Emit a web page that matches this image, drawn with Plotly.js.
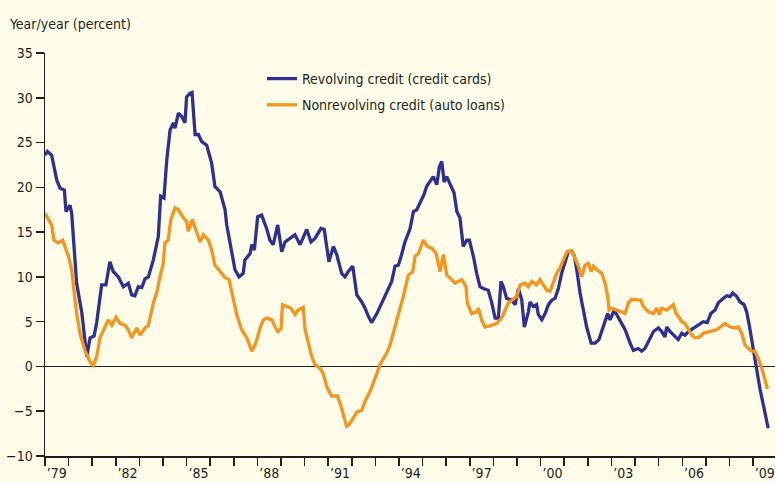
<!DOCTYPE html>
<html>
<head>
<meta charset="utf-8">
<script src="https://cdn.plot.ly/plotly-3.0.1.min.js"></script>
<style>html,body{margin:0;padding:0;background:#FFFDE9;}#chart{width:775px;height:482px;}</style>
</head>
<body>
<div id="chart"></div>
<script>
// Revolving credit (credit cards), year/year percent
const revYears = [1979.00,1979.10,1979.28,1979.42,1979.50,1979.64,1979.82,1979.89,1980.06,1980.13,1980.34,1980.56,1980.77,1980.91,1981.08,1981.19,1981.40,1981.58,1981.75,1981.89,1982.11,1982.32,1982.53,1982.67,1982.81,1982.95,1983.10,1983.24,1983.38,1983.59,1983.80,1983.90,1984.04,1984.16,1984.30,1984.44,1984.51,1984.65,1984.79,1984.93,1985.00,1985.14,1985.23,1985.36,1985.50,1985.64,1985.85,1986.06,1986.20,1986.42,1986.63,1986.70,1986.91,1987.05,1987.22,1987.40,1987.47,1987.69,1987.76,1987.87,1988.01,1988.18,1988.39,1988.53,1988.67,1988.86,1989.03,1989.17,1989.38,1989.59,1989.81,1990.09,1990.27,1990.44,1990.69,1990.83,1991.03,1991.22,1991.36,1991.57,1991.71,1991.85,1992.04,1992.21,1992.42,1992.56,1992.70,1992.84,1993.06,1993.27,1993.50,1993.69,1993.83,1993.97,1994.11,1994.25,1994.47,1994.61,1994.75,1994.89,1995.06,1995.17,1995.31,1995.45,1995.60,1995.71,1995.81,1995.91,1996.02,1996.16,1996.33,1996.45,1996.58,1996.72,1996.87,1996.98,1997.15,1997.29,1997.43,1997.57,1997.78,1997.93,1998.07,1998.21,1998.32,1998.42,1998.56,1998.78,1998.92,1999.06,1999.20,1999.31,1999.48,1999.55,1999.69,1999.83,1999.90,2000.05,2000.19,2000.33,2000.47,2000.61,2000.75,2000.89,2001.03,2001.17,2001.32,2001.43,2001.53,2001.67,2001.81,2001.95,2002.14,2002.31,2002.47,2002.59,2002.73,2002.84,2002.94,2003.12,2003.22,2003.36,2003.58,2003.79,2003.93,2004.14,2004.28,2004.42,2004.56,2004.78,2004.99,2005.13,2005.27,2005.34,2005.48,2005.62,2005.83,2005.98,2006.12,2006.26,2006.47,2006.68,2006.89,2007.06,2007.21,2007.39,2007.53,2007.74,2007.89,2008.03,2008.14,2008.31,2008.45,2008.62,2008.73,2008.84,2008.94,2009.04,2009.16,2009.30,2009.47,2009.64];
const revValues = [23.6,24.0,23.6,22.0,20.8,19.9,19.7,17.3,18.0,17.1,9.3,6.0,1.1,3.2,3.4,4.9,9.1,9.1,11.7,10.6,10.0,8.9,9.3,8.0,7.9,8.9,8.8,9.8,10.0,11.9,14.5,19.0,18.8,23.1,26.4,27.2,26.6,28.3,27.9,27.2,30.1,30.5,30.6,25.9,25.9,25.1,24.7,22.7,20.1,19.5,17.5,15.8,13.0,10.8,10.0,10.4,11.9,12.6,13.6,13.0,16.7,16.9,15.4,14.1,13.6,15.8,12.8,13.9,14.3,14.7,13.6,15.3,13.9,14.3,15.4,15.3,11.7,13.4,12.5,10.4,10.0,10.6,11.2,8.0,7.2,6.5,5.6,4.9,5.9,7.1,8.5,9.5,11.2,11.3,12.5,13.9,15.4,17.3,17.5,18.2,19.2,20.1,20.6,21.2,20.3,22.3,22.9,20.6,21.2,20.3,19.4,17.3,16.6,13.4,14.1,14.1,12.3,10.4,8.9,8.7,8.5,7.1,5.4,5.4,9.5,8.9,7.6,7.4,6.9,8.7,7.4,4.4,6.1,7.2,6.7,6.9,5.8,5.2,5.9,6.9,7.4,7.6,8.7,10.4,11.7,12.8,12.9,12.3,10.8,8.2,6.3,4.4,2.6,2.6,3.0,3.9,5.0,5.9,5.2,6.3,5.8,5.2,4.1,2.6,1.8,2.0,1.7,2.0,2.8,3.9,4.3,3.9,3.3,4.4,3.9,3.5,3.0,3.7,3.5,3.9,4.3,4.6,5.0,4.9,5.9,6.3,7.1,7.6,7.9,7.8,8.2,7.8,7.2,6.9,6.1,4.6,3.0,1.1,-0.4,-2.6,-4.7,-6.9];

// Nonrevolving credit (auto loans), year/year percent
const nonYears = [1979.00,1979.14,1979.28,1979.38,1979.56,1979.75,1979.85,1979.99,1980.13,1980.23,1980.34,1980.48,1980.69,1980.91,1981.05,1981.19,1981.33,1981.54,1981.68,1981.83,1982.01,1982.18,1982.39,1982.53,1982.67,1982.89,1983.03,1983.24,1983.38,1983.59,1983.73,1983.87,1984.01,1984.08,1984.22,1984.33,1984.51,1984.65,1984.86,1985.00,1985.07,1985.24,1985.43,1985.57,1985.71,1985.92,1986.06,1986.20,1986.42,1986.63,1986.80,1986.91,1987.12,1987.33,1987.55,1987.76,1987.93,1988.11,1988.25,1988.39,1988.61,1988.75,1988.86,1989.00,1989.06,1989.24,1989.42,1989.59,1989.73,1989.94,1990.02,1990.16,1990.30,1990.44,1990.65,1990.79,1990.94,1991.15,1991.39,1991.50,1991.64,1991.78,1991.89,1992.06,1992.21,1992.42,1992.56,1992.77,1992.91,1993.06,1993.19,1993.48,1993.62,1993.76,1993.97,1994.18,1994.39,1994.58,1994.68,1994.82,1995.03,1995.20,1995.39,1995.57,1995.74,1995.88,1996.02,1996.23,1996.37,1996.66,1996.84,1996.89,1997.08,1997.29,1997.36,1997.50,1997.64,1997.93,1998.14,1998.35,1998.49,1998.63,1998.99,1999.13,1999.34,1999.48,1999.62,1999.83,1999.97,2000.26,2000.40,2000.54,2000.68,2000.82,2000.96,2001.11,2001.32,2001.46,2001.60,2001.74,2001.88,2002.02,2002.14,2002.23,2002.38,2002.59,2002.73,2002.84,2002.90,2003.01,2003.36,2003.58,2003.72,2003.86,2004.24,2004.35,2004.56,2004.78,2004.92,2005.03,2005.13,2005.34,2005.62,2005.74,2005.83,2005.98,2006.12,2006.26,2006.40,2006.54,2006.75,2006.89,2007.25,2007.46,2007.81,2008.03,2008.24,2008.38,2008.52,2008.66,2008.80,2008.94,2009.08,2009.22,2009.37,2009.58,2009.61];
const nonValues = [17.1,16.4,15.8,14.1,13.8,14.1,13.4,12.3,10.8,8.5,5.9,3.7,1.8,0.5,0.1,1.1,3.2,4.4,5.2,4.6,5.5,4.8,4.6,4.1,3.2,4.3,3.5,4.3,4.6,7.1,8.2,10.0,11.5,13.8,14.1,16.4,17.7,17.5,16.6,16.2,15.1,16.4,14.9,13.9,14.7,14.1,13.0,11.3,10.6,9.9,9.7,8.2,5.8,4.1,3.2,1.7,2.6,4.3,5.2,5.4,5.2,4.4,3.9,4.2,6.9,6.7,6.5,5.8,6.3,6.6,4.1,2.6,1.1,0.2,-0.2,-0.8,-2.3,-3.3,-3.3,-4.1,-5.4,-6.7,-6.5,-5.8,-5.1,-4.9,-3.9,-2.8,-1.7,-0.8,0.2,1.5,2.4,3.9,5.8,7.8,10.2,10.6,12.3,12.6,14.1,13.4,13.2,12.6,10.6,12.5,10.2,9.7,9.3,9.7,8.9,7.1,5.9,6.1,6.5,5.2,4.4,4.6,4.8,5.4,6.3,7.1,7.8,9.1,9.3,8.9,9.5,9.1,9.7,8.5,8.4,9.3,10.4,11.0,11.9,12.8,12.9,12.1,11.2,10.0,11.3,11.5,10.6,11.2,10.8,10.4,9.3,7.8,6.3,6.5,6.1,5.9,7.1,7.5,7.4,6.7,6.1,5.9,6.5,5.8,6.5,6.3,6.9,5.9,5.6,5.0,4.8,4.1,3.5,3.2,3.3,3.7,3.9,4.1,4.8,4.4,4.3,4.4,3.7,2.4,2.0,1.7,1.7,0.9,-0.2,-2.3,-2.5];

const tickYears = [1979.5,1982.5,1985.5,1988.5,1991.5,1994.5,1997.5,2000.5,2003.5,2006.5,2009.5];
const tickLabels = ["\u201979","\u201982","\u201985","\u201988","\u201991","\u201994","\u201997","\u201900","\u201903","\u201906","\u201909"];
const yTicks = [-10,-5,0,5,10,15,20,25,30,35];

const FONT = "'DejaVu Sans Condensed', 'Liberation Sans', sans-serif";
const INK = "#231F20";
const BG = "#FFFDE9";

const traces = [
  {x: revYears, y: revValues, type: "scatter", mode: "lines",
   name: "Revolving credit (credit cards)", legendgroup: "a",
   line: {color: "#2E3192", width: 3.3}},
  {x: nonYears, y: nonValues, type: "scatter", mode: "lines",
   name: "Nonrevolving credit (auto loans)", legendgroup: "b",
   line: {color: "#F7941D", width: 3.3}}
];

const layout = {
  width: 775, height: 482,
  margin: {l: 45, r: 0, t: 53, b: 26, pad: 0},
  paper_bgcolor: BG, plot_bgcolor: BG,
  font: {family: FONT, size: 14, color: INK},
  title: {text: "Year/year (percent)", x: 10/775, xanchor: "left", xref: "container",
          y: 1 - 24/482, yanchor: "middle", yref: "container",
          font: {family: FONT, size: 14, color: INK}},
  showlegend: true,
  legend: {x: (262-45)/730, xanchor: "left", y: (456-63)/403, yanchor: "top",
           bgcolor: "rgba(0,0,0,0)", borderwidth: 0,
           font: {family: FONT, size: 14, color: INK},
           traceorder: "grouped", tracegroupgap: 5, itemwidth: 30},
  xaxis: {range: [1979, 2009.93], showgrid: false, zeroline: false,
          showline: true, linecolor: INK, linewidth: 1.5,
          tickmode: "array", tickvals: tickYears, ticktext: tickLabels,
          ticks: "", ticklen: 0, ticklabeloverflow: "allow", ticklabelstandoff: 4,
          tickfont: {family: FONT, size: 14, color: INK},
          minor: {tick0: 1979, dtick: 1, ticks: "outside", ticklen: 8, tickwidth: 1.5, tickcolor: INK, showgrid: false},
          fixedrange: true},
  yaxis: {range: [-10, 35], showgrid: false,
          zeroline: true, zerolinecolor: INK, zerolinewidth: 1.5,
          showline: true, linecolor: INK, linewidth: 1.5,
          tickmode: "array", tickvals: yTicks,
          ticks: "outside", ticklen: 8, tickwidth: 1.5, tickcolor: INK,
          tickfont: {family: FONT, size: 14, color: INK},
          fixedrange: true}
};

Plotly.newPlot("chart", traces, layout, {displayModeBar: false, staticPlot: true});
</script>
</body>
</html>
